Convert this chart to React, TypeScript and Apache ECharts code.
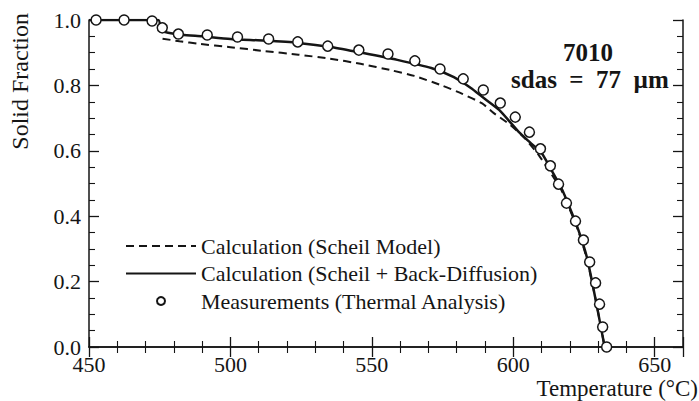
import React, { useEffect, useRef } from "react";
import * as echarts from "echarts";

const xTicks = [450, 500, 550, 600, 650];
const yTicks = [0, 0.2, 0.4, 0.6, 0.8, 1.0];

const scheilModel: [number, number][] = [
  [476, 0.943], [482, 0.935], [489, 0.927], [500, 0.917], [512, 0.905], [524, 0.894],
  [535, 0.882], [546, 0.866], [557, 0.846], [565, 0.829], [575, 0.799], [582, 0.774],
  [589, 0.745], [593, 0.716], [599, 0.679], [604, 0.639], [609, 0.587], [613, 0.535],
  [617, 0.48], [620, 0.42], [623, 0.355], [626, 0.27], [629, 0.15], [632.3, 0.0],
];

const backDiffusion: [number, number][] = [
  [450, 1.0], [474.5, 1.0], [475.5, 0.968], [478, 0.961], [483, 0.955], [490, 0.95],
  [500, 0.942], [512, 0.937], [524, 0.93], [536, 0.917], [547, 0.899], [559, 0.878],
  [571, 0.853], [579, 0.825], [585, 0.792], [589, 0.765], [595, 0.725], [602, 0.657],
  [606, 0.625], [610, 0.593], [613.5, 0.541], [617, 0.486], [620, 0.425], [623, 0.358],
  [626, 0.275], [629, 0.15], [632.3, 0.0],
];

const measurements: [number, number][] = [
  [452.5, 1.0], [462.4, 1.0], [472.3, 0.997], [475.9, 0.976], [481.6, 0.957], [491.8, 0.954],
  [502.5, 0.948], [513.5, 0.942], [523.8, 0.933], [534.4, 0.92], [545.4, 0.908], [555.7, 0.896],
  [565.2, 0.875], [574.1, 0.85], [582.3, 0.82], [589.4, 0.786], [595.4, 0.746], [600.7, 0.703],
  [605.7, 0.657], [609.6, 0.606], [613.1, 0.554], [616.0, 0.498], [618.8, 0.44], [622.0, 0.385],
  [624.8, 0.327], [627.0, 0.26], [629.1, 0.196], [630.5, 0.131], [631.6, 0.061], [633.0, 0.0],
];

const seriesNames = [
  "Calculation (Scheil Model)",
  "Calculation (Scheil + Back-Diffusion)",
  "Measurements (Thermal Analysis)",
];

const FONT = "Liberation Serif";
const INK = "#151515";

export default function App() {
  const ref = useRef<HTMLDivElement>(null);
  useEffect(() => {
    if (!ref.current) return;
    const chart = echarts.init(ref.current, null, { renderer: "svg" });
    const axisCommon = {
      type: "value" as const,
      axisLine: { show: true, lineStyle: { color: INK, width: 1.5 } },
      axisTick: { show: true, inside: true, length: 10, lineStyle: { color: INK, width: 1.3 } },
      minorTick: { show: true, length: 6, lineStyle: { color: INK, width: 1.1 } },
      splitLine: { show: false },
      minorSplitLine: { show: false },
    };
    chart.setOption({
      animation: false,
      backgroundColor: "#ffffff",
      grid: { left: 89, right: 16, top: 20, bottom: 54, containLabel: false },
      xAxis: [
        {
          ...axisCommon,
          position: "bottom",
          min: 450,
          max: 660,
          interval: 50,
          minorTick: { ...axisCommon.minorTick, splitNumber: 5 },
          axisLabel: {
            show: true,
            margin: 7,
            fontSize: 22,
            lineHeight: 20,
            fontFamily: FONT,
            color: INK,
            formatter: (v: number) => (xTicks.includes(v) ? String(v) : ""),
          },
        },
        {
          ...axisCommon,
          position: "top",
          min: 450,
          max: 660,
          interval: 50,
          minorTick: { ...axisCommon.minorTick, splitNumber: 5 },
          axisLabel: { show: false },
        },
      ],
      yAxis: [
        {
          ...axisCommon,
          position: "left",
          min: 0,
          max: 1,
          interval: 0.2,
          minorTick: { ...axisCommon.minorTick, splitNumber: 4 },
          axisLabel: {
            show: true,
            margin: 8,
            fontSize: 22,
            lineHeight: 14,
            fontFamily: FONT,
            color: INK,
            formatter: (v: number) => {
              const t = yTicks.find((y) => Math.abs(y - v) < 1e-6);
              return t === undefined ? "" : t.toFixed(1);
            },
          },
        },
        {
          ...axisCommon,
          position: "right",
          min: 0,
          max: 1,
          interval: 0.2,
          minorTick: { ...axisCommon.minorTick, splitNumber: 4 },
          axisLabel: { show: false },
        },
      ],
      legend: {
        show: true,
        orient: "vertical",
        left: 120,
        top: 230,
        itemWidth: 70,
        itemHeight: 8,
        itemGap: 5.5,
        data: [
          { name: seriesNames[0], itemStyle: { opacity: 0 } },
          { name: seriesNames[1], itemStyle: { opacity: 0 } },
          { name: seriesNames[2] },
        ],
        textStyle: { fontSize: 22, lineHeight: 22, fontFamily: FONT, color: INK },
        selectedMode: false,
      },
      series: [
        {
          name: seriesNames[0],
          type: "line",
          data: scheilModel,
          symbol: "none",
          smooth: 0.2,
          lineStyle: { color: INK, width: 2, type: [8, 5] },
          itemStyle: { color: INK },
          z: 2,
        },
        {
          name: seriesNames[1],
          type: "line",
          data: backDiffusion,
          symbol: "none",
          smooth: 0.2,
          lineStyle: { color: INK, width: 2.5 },
          itemStyle: { color: INK },
          z: 3,
        },
        {
          name: seriesNames[2],
          type: "scatter",
          data: measurements,
          symbol: "circle",
          symbolSize: 10,
          itemStyle: { color: "#ffffff", borderColor: INK, borderWidth: 1.5, opacity: 1 },
          z: 4,
        },
      ],
      graphic: [
        {
          type: "text",
          left: 8,
          top: 13,
          rotation: Math.PI / 2,
          style: {
            text: "Solid Fraction",
            fontSize: 24,
            fontFamily: FONT,
            fill: INK,
          },
        },
        {
          type: "text",
          right: 1,
          top: 377,
          style: {
            text: "Temperature (°C)",
            fontSize: 23,
            fontFamily: FONT,
            fill: INK,
          },
        },
        {
          type: "text",
          left: 563,
          top: 40,
          style: {
            text: "7010",
            fontSize: 25,
            fontWeight: "bold",
            fontFamily: FONT,
            fill: INK,
          },
        },
        {
          type: "text",
          left: 511,
          top: 67,
          style: {
            text: "sdas  =  77  µm",
            fontSize: 25,
            fontWeight: "bold",
            fontFamily: FONT,
            fill: INK,
          },
        },
      ],
    });
    return () => chart.dispose();
  }, []);
  return (
    <div
      ref={ref}
      style={{ position: "fixed", left: 0, top: 0, width: 699, height: 401, background: "#fff" }}
    />
  );
}
